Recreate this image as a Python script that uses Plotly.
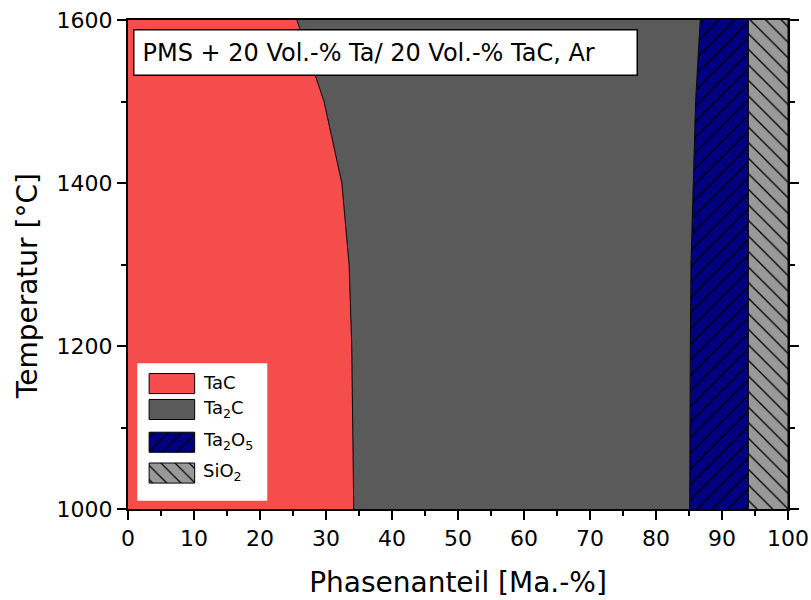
import plotly.graph_objects as go

# Phase composition vs. temperature (mass fractions, stacked to 100 %)
temperature = [1000, 1100, 1200, 1300, 1400, 1500, 1600]
tac = [34.2, 34.1, 33.9, 33.5, 32.4, 29.7, 25.6]
ta2c = [50.9, 51.0, 51.3, 51.8, 53.2, 56.3, 61.1]
ta2o5 = [8.9, 8.9, 8.8, 8.7, 8.4, 8.0, 7.3]
sio2 = [6.0, 6.0, 6.0, 6.0, 6.0, 6.0, 6.0]

phase_names = ["TaC", "Ta<sub>2</sub>C", "Ta<sub>2</sub>O<sub>5</sub>", "SiO<sub>2</sub>"]
phase_values = [tac, ta2c, ta2o5, sio2]
phase_colors = ["#F54C4C", "#5A5A5A", "#000080", "#999999"]
phase_hatch = [None, None, "/", "\\"]

font = "DejaVu Sans, Verdana, sans-serif"


def pattern(shape, color, size=11):
    if shape is None:
        return None
    return dict(shape=shape, fgcolor="black", bgcolor=color,
                size=size, solidity=0.12, fillmode="replace")


fig = go.Figure()
for name, vals, color, hatch in zip(phase_names, phase_values, phase_colors, phase_hatch):
    kw = {"fillpattern": pattern(hatch, color)} if hatch else {}
    fig.add_trace(go.Scatter(
        x=vals, y=temperature, name=name, mode="lines",
        stackgroup="phases", orientation="h",
        line=dict(color="black", width=1),
        fillcolor=color, showlegend=False, **kw,
    ))

# Legend panel drawn on an overlay axis spanning the plot area (0..1 both ways)
def rect(x0, y0, x1, y1):
    return [x0, x1, x1, x0, x0], [y0, y0, y1, y1, y0]

box_x, box_y = rect(0.014, 0.017, 0.211, 0.298)
fig.add_trace(go.Scatter(
    x=box_x, y=box_y, xaxis="x2", yaxis="y2", mode="lines", fill="toself",
    fillcolor="white", line=dict(color="white", width=0), showlegend=False,
    hoverinfo="skip",
))

swatch_x0, swatch_x1 = 0.032, 0.101
row_tops = [0.277, 0.224, 0.157, 0.094]
row_h = 0.041
for name, color, hatch, top in zip(phase_names, phase_colors, phase_hatch, row_tops):
    sx, sy = rect(swatch_x0, top - row_h, swatch_x1, top)
    kw = {"fillpattern": pattern(hatch, color, size=10)} if hatch else {}
    fig.add_trace(go.Scatter(
        x=sx, y=sy, xaxis="x2", yaxis="y2", mode="lines", fill="toself",
        fillcolor=color, line=dict(color="black", width=1), showlegend=False,
        hoverinfo="skip", **kw,
    ))
    fig.add_annotation(
        xref="x2", yref="y2", x=0.11, y=top - row_h / 2 + 0.002,
        xanchor="left", yanchor="middle", text=name, showarrow=False,
        font=dict(family=font, size=18, color="black"),
    )

axis_common = dict(
    showline=True, linecolor="black", linewidth=2,
    ticks="outside", ticklen=9, tickwidth=1.5, tickcolor="black",
    showgrid=False, zeroline=False, automargin=False,
    tickfont=dict(family=font, size=22, color="black"),
)

fig.update_xaxes(
    range=[0, 100], dtick=10, mirror=True,
    minor=dict(dtick=5, ticks="outside", ticklen=5, tickcolor="black", tickwidth=1.5),
    title=dict(text="Phasenanteil [Ma.-%]", font=dict(family=font, size=28, color="black"),
               standoff=22),
    **axis_common,
)
fig.update_yaxes(
    range=[1000, 1600], dtick=200, mirror="ticks",
    minor=dict(dtick=100, ticks="outside", ticklen=5, tickcolor="black", tickwidth=1.5),
    **axis_common,
)

# Y-axis title, placed slightly below the plot's vertical centre
fig.add_annotation(
    xref="paper", yref="paper", x=-0.152, y=0.455, xanchor="center", yanchor="middle",
    text="Temperatur [°C]", textangle=-90, showarrow=False,
    font=dict(family=font, size=28, color="black"),
)

fig.add_annotation(
    xref="paper", yref="paper", x=0.007, y=0.982, xanchor="left", yanchor="top",
    text="PMS + 20 Vol.-% Ta/ 20 Vol.-% TaC, Ar", showarrow=False,
    width=486, align="left",
    font=dict(family=font, size=24, color="black"),
    bgcolor="white", bordercolor="black", borderwidth=1.5, borderpad=8,
)

fig.update_layout(
    width=811, height=600,
    margin=dict(l=128, r=23, t=20, b=91),
    plot_bgcolor="white", paper_bgcolor="white",
    showlegend=False,
    xaxis2=dict(overlaying="x", range=[0, 1], visible=False, fixedrange=True),
    yaxis2=dict(overlaying="y", range=[0, 1], visible=False, fixedrange=True),
)

fig.write_html("out.html")
